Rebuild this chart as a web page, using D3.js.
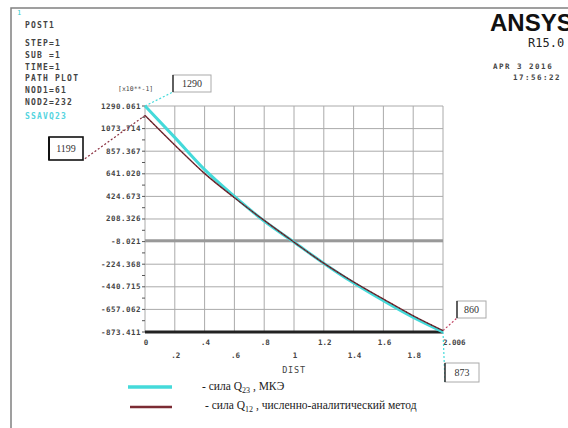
<!DOCTYPE html>
<html>
<head>
<meta charset="utf-8">
<script src="https://cdn.jsdelivr.net/npm/d3@7"></script>
<style>
  body{margin:0;background:#fff;}
  svg{display:block;}
</style>
</head>
<body>
<svg id="chart" width="568" height="428"></svg>
<script>
// path positions along DIST
var distValues = [0, 0.2, 0.4, 0.6, 0.8, 1.0, 1.2, 1.4, 1.6, 1.8, 2.006];
// сила Q23, МКЭ
var femValues = [1290, 990, 683, 427, 191, -10, -212, -400, -570, -730, -873];
// численно-аналитический метод
var analyticValues = [1199, 916, 645, 414, 197, -10, -212, -391, -554, -714, -860];

var yTickLabels = ['1290.061','1073.714','857.367','641.020','424.673','208.326','-8.021','-224.368','-440.715','-657.062','-873.411'];
var xTickLabels = ['0','.2','.4','.6','.8','1','1.2','1.4','1.6','1.8','2.006'];
var infoLines = ['POST1','STEP=1','SUB =1','TIME=1','PATH PLOT','NOD1=61','NOD2=232'];

var svg = d3.select('#chart');
var mono = 'DejaVu Sans Mono, monospace';

var xMax = 2.006, yMin = -873.411, yMax = 1290.061;
var x = d3.scaleLinear().domain([0, xMax]).range([145, 443]);
var y = d3.scaleLinear().domain([yMin, yMax]).range([332, 106]);

//外框
svg.append('path')
    .attr('d','M11,428 L11,8 L568,8')
    .attr('fill','none').attr('stroke','#808080').attr('stroke-width',1.5);

//左上角信息
svg.append('text').text('1').attr('x',17).attr('y',15)
    .attr('font-family',mono).attr('font-size',7).attr('fill','#33cccc');
svg.selectAll('.info').data(infoLines).enter().append('text')
    .attr('class','info')
    .attr('x',25)
    .attr('y',function(d,i){ return i == 0 ? 28 : 46 + (i-1)*11.8; })
    .attr('font-family',mono).attr('font-size',8).attr('letter-spacing',1.2)
    .attr('font-weight','bold').attr('fill','#444').text(function(d){ return d; });
svg.append('text').text('SSAVQ23').attr('x',25).attr('y',119)
    .attr('font-family',mono).attr('font-size',8).attr('letter-spacing',1.2)
    .attr('font-weight','bold').attr('fill','#55d4e0');

//ANSYS 标志
svg.append('text').text('ANSYS').attr('x',490).attr('y',31)
    .attr('font-family','Liberation Sans, Arial, sans-serif').attr('font-size',24).attr('font-weight','bold').attr('fill','#111');
svg.append('text').text('R15.0').attr('x',528).attr('y',47)
    .attr('font-family',mono).attr('font-size',12).attr('fill','#222');
svg.append('text').text('APR  3 2016').attr('x',493).attr('y',69)
    .attr('font-family',mono).attr('font-size',7.5).attr('letter-spacing',1.5)
    .attr('font-weight','bold').attr('fill','#444');
svg.append('text').text('17:56:22').attr('x',513).attr('y',80)
    .attr('font-family',mono).attr('font-size',7.5).attr('letter-spacing',1.5)
    .attr('font-weight','bold').attr('fill','#444');

//网格
var xGrid = xTickLabels.map(function(d,i){ return i * xMax / 10; });
var yGrid = yTickLabels.map(function(d){ return +d; });

svg.append('g').selectAll('line').data(xGrid).enter().append('line')
    .attr('x1',function(d){ return x(d); }).attr('x2',function(d){ return x(d); })
    .attr('y1',y(yMax)).attr('y2',y(yMin))
    .attr('stroke','#aaa').attr('stroke-width',1);
svg.append('g').selectAll('line').data(yGrid).enter().append('line')
    .attr('x1',x(0)).attr('x2',x(xMax))
    .attr('y1',function(d){ return y(d); }).attr('y2',function(d){ return y(d); })
    .attr('stroke','#aaa').attr('stroke-width',1);

//零线 / x轴
svg.append('line')
    .attr('x1',x(0)).attr('x2',x(xMax)).attr('y1',y(0)).attr('y2',y(0))
    .attr('stroke','#999').attr('stroke-width',3);
svg.append('line')
    .attr('x1',x(0)).attr('x2',x(xMax)).attr('y1',y(yMin)).attr('y2',y(yMin))
    .attr('stroke','#222').attr('stroke-width',3);

//y 轴刻度
var yStep = (yMax - yMin) / 10;
var yMinor = yGrid.slice(1).map(function(d){ return d + yStep / 2; });
svg.append('g').selectAll('line').data(yGrid.concat(yMinor)).enter().append('line')
    .attr('x1',x(0) - 3).attr('x2',x(0))
    .attr('y1',function(d){ return y(d); }).attr('y2',function(d){ return y(d); })
    .attr('stroke','#555').attr('stroke-width',1);
svg.append('g').selectAll('text').data(yTickLabels).enter().append('text')
    .attr('x',x(0) - 4)
    .attr('y',function(d){ return y(+d) + 2.5; })
    .attr('text-anchor','end')
    .attr('font-family',mono).attr('font-size',7.5).attr('letter-spacing',0.5)
    .attr('font-weight','bold').attr('fill','#444')
    .text(function(d){ return d; });
svg.append('text').text('[x10**-1]').attr('x',118).attr('y',91)
    .attr('font-family',mono).attr('font-size',6.5).attr('fill','#444');

//x 轴标签(交错两行)
svg.append('g').selectAll('text').data(xTickLabels).enter().append('text')
    .attr('x',function(d,i){ return i == 10 ? x(xGrid[i]) : x(xGrid[i]) + 1; })
    .attr('y',function(d,i){ return i % 2 == 0 ? 345 : 358; })
    .attr('text-anchor',function(d,i){ return i == 10 ? 'start' : 'middle'; })
    .attr('font-family',mono).attr('font-size',7.5).attr('font-weight','bold').attr('fill','#444')
    .text(function(d){ return d; });
svg.append('text').text('DIST').attr('x',294).attr('y',373)
    .attr('text-anchor','middle')
    .attr('font-family',mono).attr('font-size',8.5).attr('letter-spacing',0.8).attr('fill','#444');

//曲线
var line = d3.line()
    .x(function(d){ return x(d[0]); })
    .y(function(d){ return y(d[1]); })
    .curve(d3.curveMonotoneX);

svg.append('path')
    .datum(d3.zip(distValues, femValues))
    .attr('d',line).attr('fill','none')
    .attr('stroke','#44dada').attr('stroke-width',3);
svg.append('path')
    .datum(d3.zip(distValues, analyticValues))
    .attr('d',line).attr('fill','none')
    .attr('stroke','#7b2b33').attr('stroke-width',1.4);
svg.append('path')
    .datum(d3.zip(distValues, analyticValues))
    .attr('d',line).attr('fill','none')
    .attr('stroke','#222').attr('stroke-width',1)
    .attr('stroke-dasharray','1,3');

//标注框
function labelBox(txt, bx, by, w, h, px, py, color, heavy){
    svg.append('line')
        .attr('x1',px).attr('y1',py).attr('x2',bx + (px > bx ? w : 0)).attr('y2',by + h)
        .attr('stroke',color).attr('stroke-width',1.2).attr('stroke-dasharray','2,2');
    svg.append('rect')
        .attr('x',bx).attr('y',by).attr('width',w).attr('height',h)
        .attr('fill','#fff').attr('stroke',heavy ? '#111' : '#aaa').attr('stroke-width',heavy ? 1.6 : 1);
    svg.append('line')
        .attr('x1',bx).attr('x2',bx).attr('y1',by).attr('y2',by + h)
        .attr('stroke','#111').attr('stroke-width',heavy ? 2 : 1.2);
    svg.append('text').text(txt)
        .attr('x',bx + w / 2).attr('y',by + h / 2 + 3.5)
        .attr('text-anchor','middle')
        .attr('font-family','Liberation Serif, serif').attr('font-size',10).attr('fill','#333');
}
labelBox('1290', 173, 75, 38, 17, x(0), y(femValues[0]), '#44dada', false);
labelBox('1199', 49, 137, 34, 23, x(0), y(analyticValues[0]), '#8b3040', true);
labelBox('860', 457, 301, 29, 17, x(xMax), y(analyticValues[10]), '#c04060', false);
labelBox('873', 445, 363, 34, 19, x(xMax), y(femValues[10]), '#44dada', false);

//图例
var legend = svg.append('g').attr('font-family','Liberation Serif, serif').attr('fill','#222');
legend.append('line').attr('x1',128).attr('x2',172).attr('y1',387).attr('y2',387)
    .attr('stroke','#44dada').attr('stroke-width',3.5);
legend.append('line').attr('x1',130).attr('x2',172).attr('y1',407).attr('y2',407)
    .attr('stroke','#7b2b33').attr('stroke-width',2.5);

var t1 = legend.append('text').attr('x',202).attr('y',390).attr('font-size',11.5);
t1.append('tspan').text('- сила Q');
t1.append('tspan').text('23').attr('font-size',8).attr('dy',3);
t1.append('tspan').text(' , МКЭ').attr('dy',-3);

var t2 = legend.append('text').attr('x',205).attr('y',409).attr('font-size',11.5);
t2.append('tspan').text('-   сила Q');
t2.append('tspan').text('12').attr('font-size',8).attr('dy',3);
t2.append('tspan').text(' , численно-аналитический метод').attr('dy',-3);
</script>
</body>
</html>
